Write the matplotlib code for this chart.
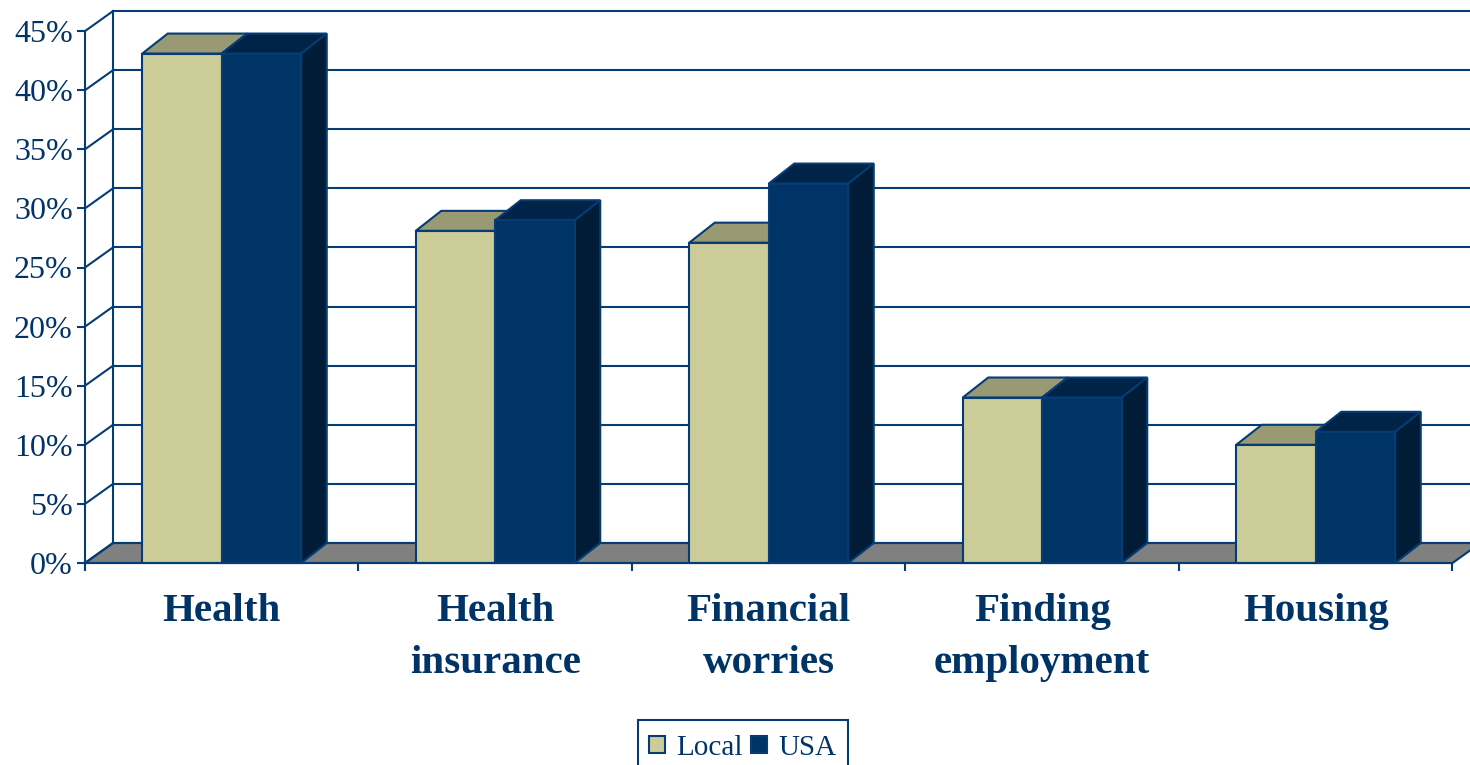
import matplotlib
matplotlib.use('Agg')
import matplotlib.pyplot as plt
from matplotlib.patches import Polygon, Patch, Rectangle

categories = ['Health', 'Health\ninsurance', 'Financial\nworries', 'Finding\nemployment', 'Housing']
local = [43.1, 28.1, 27.1, 14.0, 10.0]
usa = [43.1, 29.0, 32.1, 14.0, 11.1]
y_ticks = [0, 5, 10, 15, 20, 25, 30, 35, 40, 45]
y_labels = ['0%', '5%', '10%', '15%', '20%', '25%', '30%', '35%', '40%', '45%']

NAVY = '#003366'
LINE = '#053c74'
SAND = '#cccc99'
SAND_TOP = '#999973'
NAVY_TOP = '#002447'
NAVY_SIDE = '#001c36'
FLOOR = '#808080'

plt.rcParams['font.family'] = ['Liberation Serif', 'DejaVu Serif']

# one category = 273.5 px, 5% = 59.1 px, origin of the front plane at (85, 563)
px_x = 273.5
px_y = 59.1 / 5
dx_wall = 28 / px_x
dy_wall = 20 / px_y
dx_bar = 25.5 / px_x
dy_bar = 20 / px_y
bar_w = 79.5 / px_x

fig = plt.figure(figsize=(14.7, 7.65), dpi=100)
ax = fig.add_axes([0, 0, 1, 1])
ax.set_xlim(-85 / px_x, (1470 - 85) / px_x)
ax.set_ylim(-(765 - 563) / px_y, 563 / px_y)
ax.patch.set_visible(False)


def box(x, w, h, front, top, side):
    lw = 1.5
    ax.add_patch(Polygon([(x, h), (x + dx_bar, h + dy_bar), (x + w + dx_bar, h + dy_bar), (x + w, h)],
                         fc=top, ec=LINE, lw=lw, zorder=3))
    ax.add_patch(Polygon([(x + w, 0), (x + w + dx_bar, dy_bar), (x + w + dx_bar, h + dy_bar), (x + w, h)],
                         fc=side, ec=LINE, lw=lw, zorder=3))
    ax.add_patch(Polygon([(x, 0), (x + w, 0), (x + w, h), (x, h)],
                         fc=front, ec=LINE, lw=lw, zorder=4))


# floor and walls
n = len(categories)
ax.add_patch(Polygon([(0, 0), (dx_wall, dy_wall), (n + dx_wall, dy_wall), (n, 0)],
                     fc=FLOOR, ec=LINE, lw=1.5, zorder=1))
for t in y_ticks:
    ax.plot([0, dx_wall], [t, t + dy_wall], color=LINE, lw=1.5, zorder=1)
    ax.plot([dx_wall, n + dx_wall], [t + dy_wall, t + dy_wall], color=LINE, lw=1.5, zorder=1)
ax.plot([dx_wall, dx_wall], [dy_wall, 45 + dy_wall], color=LINE, lw=1.5, zorder=1)

# bars
for i in range(n):
    left = i + (1 - 2 * bar_w) / 2
    box(left, bar_w, local[i], SAND, SAND_TOP, SAND)
    box(left + bar_w, bar_w, usa[i], NAVY, NAVY_TOP, NAVY_SIDE)

# axes
for s in ['top', 'right']:
    ax.spines[s].set_visible(False)
ax.spines['left'].set_position(('data', 0))
ax.spines['bottom'].set_position(('data', 0))
ax.spines['left'].set_bounds(0, 45)
ax.spines['bottom'].set_bounds(0, n)
for s in ['left', 'bottom']:
    ax.spines[s].set_color(LINE)
    ax.spines[s].set_linewidth(1.5)
    ax.spines[s].set_zorder(5)

ax.set_yticks(y_ticks)
ax.set_yticklabels(y_labels, fontsize=23, color=NAVY)
ax.tick_params(axis='y', length=5.8, width=1.5, color=LINE, pad=3)
ax.set_xticks(range(n + 1))
ax.set_xticklabels([])
ax.tick_params(axis='x', which='major', length=5.5, width=1.5, color=LINE)
ax.set_xticks([i + 0.5 for i in range(n)], minor=True)
ax.set_xticklabels(categories, minor=True, fontsize=29.5, fontweight='bold', color=NAVY, linespacing=1.55)
ax.tick_params(axis='x', which='minor', length=0, pad=21.5)

# legend box runs off the bottom of the picture
fig.add_artist(Rectangle((638 / 1470, -5 / 765), 210 / 1470, 50 / 765, transform=fig.transFigure,
                         fc='white', ec=LINE, lw=1.5, zorder=-1))
handles = [Patch(fc=SAND, ec=LINE, lw=1.5, label='Local'), Patch(fc=NAVY, ec=LINE, lw=1.5, label='USA')]
ax.legend(handles=handles, ncol=2, fontsize=21, loc='center', bbox_to_anchor=(742.5 / 1470, 1 - 748 / 765),
          bbox_transform=fig.transFigure, frameon=False, handlelength=0.55, handleheight=0.55,
          handletextpad=0.38, columnspacing=0.3, borderpad=0, labelcolor=NAVY)

fig.savefig('out.png', dpi=100)
